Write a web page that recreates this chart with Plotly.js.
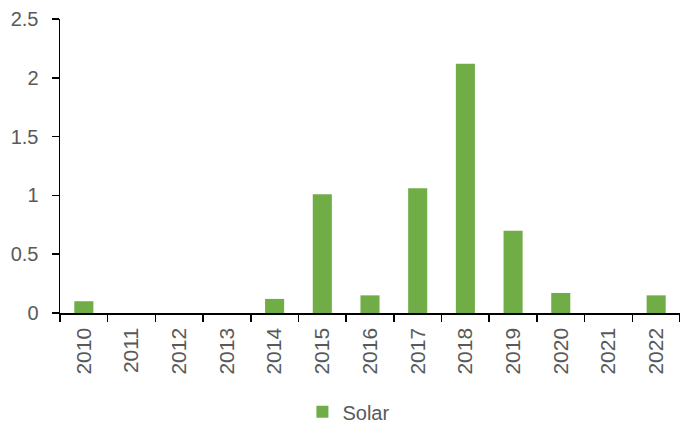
<!DOCTYPE html>
<html>
<head>
<meta charset="utf-8">
<script src="https://cdn.plot.ly/plotly-3.0.1.min.js"></script>
<style>html,body{margin:0;padding:0;background:#fff;}#chart{width:680px;height:425px;}</style>
</head>
<body>
<div id="chart"></div>
<script>
const years = ["2010","2011","2012","2013","2014","2015","2016","2017","2018","2019","2020","2021","2022"];
const solar = [0.10, 0, 0, 0, 0.12, 1.01, 0.15, 1.06, 2.12, 0.70, 0.17, 0, 0.15];
const yTicks = [0, 0.5, 1, 1.5, 2, 2.5];
const yTickText = ["0", "0.5", "1", "1.5", "2", "2.5"];

const font = {family: "Liberation Sans, Arial, sans-serif", size: 20, color: "#595959"};
const xfont = {family: "Liberation Sans, Arial, sans-serif", size: 21, color: "#595959"};

Plotly.newPlot("chart", [{
  type: "bar",
  x: years,
  y: solar,
  name: "Solar",
  marker: {color: "#70AD47"},
  showlegend: true
}], {
  width: 680, height: 425,
  margin: {l: 60, r: 0, t: 19, b: 112},
  paper_bgcolor: "#ffffff",
  plot_bgcolor: "#ffffff",
  font: font,
  bargap: 0.6,
  showlegend: true,
  legend: {orientation: "h", x: 0.466, xanchor: "center", yref: "container", y: 0.031, yanchor: "middle", font: font, itemwidth: 30},
  xaxis: {
    type: "category",
    showgrid: false, zeroline: false,
    showline: true, linecolor: "#000000", linewidth: 1.5,
    ticks: "outside", tickson: "boundaries", ticklen: 7, tickcolor: "#000000", tickwidth: 1.5,
    tickangle: -90, tickfont: xfont, ticklabelstandoff: 5
  },
  yaxis: {
    range: [0, 2.5],
    tickvals: yTicks, ticktext: yTickText,
    showgrid: false, zeroline: false,
    showline: true, linecolor: "#000000", linewidth: 1.5,
    ticks: "outside", ticklen: 7, tickcolor: "#000000", tickwidth: 1.5,
    tickfont: font, ticklabelstandoff: 9
  }
}, {displayModeBar: false, staticPlot: true});
</script>
</body>
</html>
